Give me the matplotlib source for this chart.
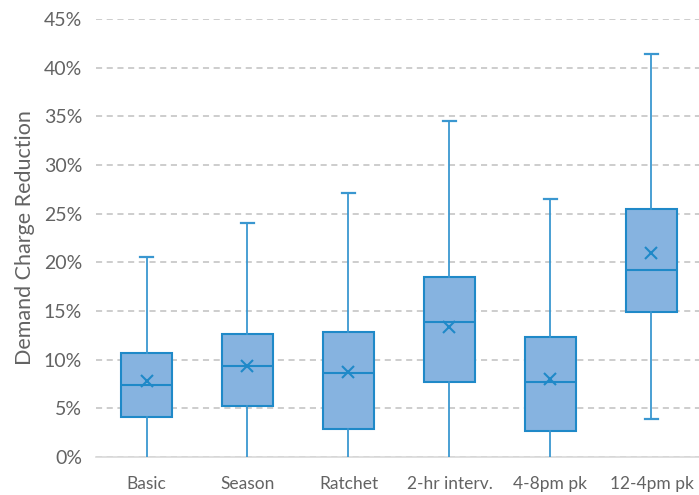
import matplotlib
matplotlib.use("Agg")
import matplotlib.pyplot as plt

categories = ["Basic", "Season", "Ratchet", "2-hr interv.", "4-8pm pk", "12-4pm pk"]
whisker_low = [0.0, 0.0, 0.0, 0.0, 0.0, 3.95]
q1 = [4.1, 5.2, 2.9, 7.7, 2.7, 14.9]
median = [7.4, 9.4, 8.6, 13.9, 7.7, 19.2]
q3 = [10.7, 12.65, 12.8, 18.5, 12.3, 25.5]
whisker_high = [20.5, 24.05, 27.1, 34.5, 26.5, 41.4]
mean = [7.8, 9.4, 8.7, 13.4, 8.05, 21.0]
y_ticks = [0, 5, 10, 15, 20, 25, 30, 35, 40, 45]

plt.rcParams['font.family'] = ['Lato', 'DejaVu Sans']

fig = plt.figure(figsize=(6.99, 4.95), dpi=100)
ax = fig.add_axes([96/699, 1-457/495, 606/699, 438/495])

stats = []
for i, c in enumerate(categories):
    stats.append(dict(label=c, whislo=whisker_low[i], q1=q1[i], med=median[i],
                      q3=q3[i], whishi=whisker_high[i], mean=mean[i], fliers=[]))

edge = "#1F89C8"
fill = "#86B3E0"
art = ax.bxp(stats, positions=range(len(categories)), widths=0.5, capwidths=0.13,
             showmeans=True, patch_artist=True,
             boxprops=dict(facecolor=fill, edgecolor=edge, linewidth=1.5),
             medianprops=dict(color=edge, linewidth=1.5),
             whiskerprops=dict(color="#3A97D0", linewidth=1.3),
             capprops=dict(color="#3A97D0", linewidth=1.6),
             meanprops=dict(marker="x", markeredgecolor=edge, markersize=8, markeredgewidth=1.5),
             zorder=3)
# lower caps sitting on the axis line are not visible in the reference
for i, lo in enumerate(whisker_low):
    if lo == 0:
        art["caps"][2 * i].set_visible(False)

ax.set_xlim(-0.5, 5.5)
ax.set_ylim(0, 45)
ax.set_yticks(y_ticks)
ax.set_yticklabels([f"{v}%" for v in y_ticks])
ax.yaxis.grid(True, linestyle=(0, (4, 3)), color="#C0C0C0", linewidth=1.1, zorder=0)
ax.set_axisbelow(True)
for s in ["left", "right", "top"]:
    ax.spines[s].set_visible(False)
ax.spines["bottom"].set_color("#D9D9D9")
ax.spines["bottom"].set_linewidth(1.2)
ax.tick_params(axis="both", length=0)
ax.tick_params(axis="y", labelsize=14, labelcolor="#636363", pad=10)
ax.tick_params(axis="x", labelsize=12.5, labelcolor="#636363", pad=14)
ax.set_ylabel("Demand Charge Reduction", fontsize=15.5, color="#636363", labelpad=6)

fig.savefig("out.png", dpi=100)
